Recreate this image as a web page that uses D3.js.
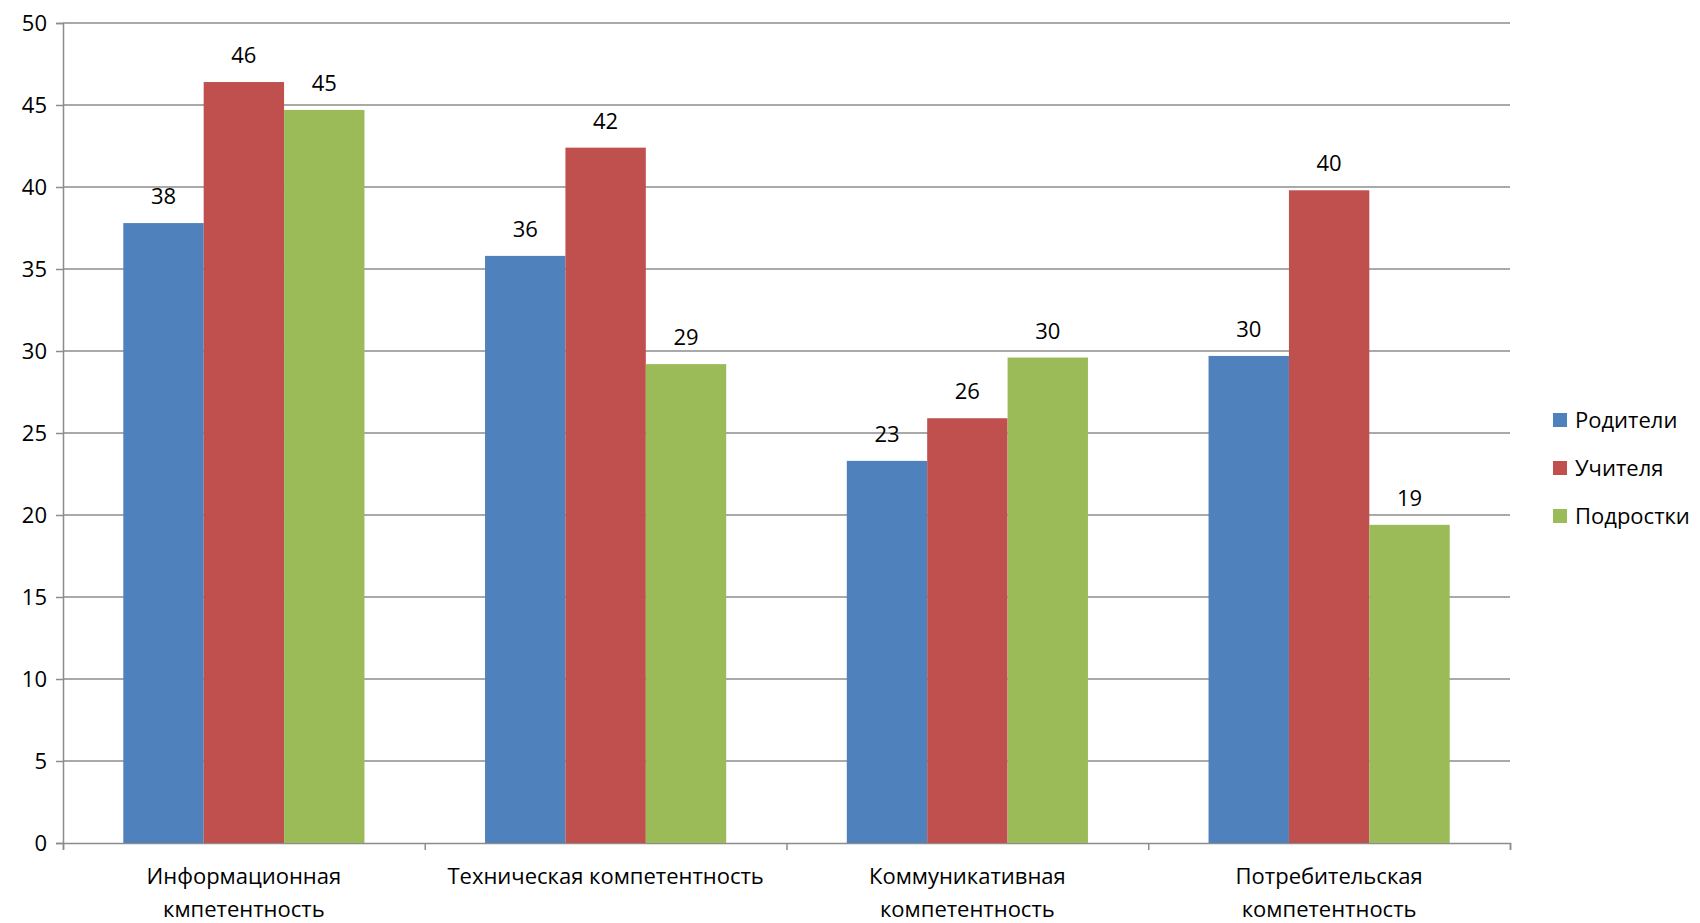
<!DOCTYPE html>
<html>
<head>
<meta charset="utf-8">
<script src="https://cdn.jsdelivr.net/npm/d3@7"></script>
<style>
  body { margin: 0; background: #fff; }
  text { font-family: "Open Sans", Lato, sans-serif; fill: #000; }
</style>
</head>
<body>
<div id="chart"></div>
<script>
// categories (each split into label lines), series and values
var categories = ["Информационная компетентность", "Техническая компетентность", "Коммуникативная компетентность", "Потребительская компетентность"];
var categoryLines = [["Информационная", "кмпетентность"], ["Техническая компетентность"], ["Коммуникативная", "компетентность"], ["Потребительская", "компетентность"]];
var seriesNames = ["Родители", "Учителя", "Подростки"];
var seriesColors = ["#4F81BD", "#C0504D", "#9BBB59"];
var roditeli = [37.8, 35.8, 23.3, 29.7];
var uchitelya = [46.4, 42.4, 25.9, 39.8];
var podrostki = [44.7, 29.2, 29.6, 19.4];
var yTicks = [0, 5, 10, 15, 20, 25, 30, 35, 40, 45, 50];

var values = [roditeli, uchitelya, podrostki];

var W = 1700, H = 923;
var margin = {top: 23, right: 190, bottom: 80, left: 63};
var width = W - margin.left - margin.right,
    height = H - margin.top - margin.bottom;
var fontSize = "22px";

var svg = d3.select("#chart")
  .append("svg")
    .attr("width", W)
    .attr("height", H)
  .append("g")
    .attr("transform", "translate(" + margin.left + "," + margin.top + ")");

var x0 = d3.scaleBand()
  .domain(categories)
  .range([0, width])
  .paddingInner(1/3)
  .paddingOuter(1/6);

var x1 = d3.scaleBand()
  .domain(seriesNames)
  .range([0, x0.bandwidth()]);

var y = d3.scaleLinear()
  .domain([0, 50])
  .range([height, 0]);

// gridlines
svg.append("g")
  .selectAll("line")
  .data(yTicks.slice(1))
  .enter()
  .append("line")
    .attr("x1", 0)
    .attr("x2", width)
    .attr("y1", function(d) { return y(d); })
    .attr("y2", function(d) { return y(d); })
    .style("stroke", "#8c8c8c")
    .style("stroke-width", 1.5);

// Y axis
var yAxis = svg.append("g")
  .call(d3.axisLeft(y).tickValues(yTicks).tickSize(7).tickPadding(9));
yAxis.selectAll("text").style("font-size", fontSize);

// X axis: ticks at category boundaries
var xBoundary = d3.scaleLinear().domain([0, categories.length]).range([0, width]);
svg.append("g")
  .attr("transform", "translate(0," + height + ")")
  .call(d3.axisBottom(xBoundary).tickValues(d3.range(0, categories.length + 1)).tickSize(7).tickFormat(""));

svg.selectAll(".domain, .tick line")
  .style("stroke", "#8c8c8c")
  .style("stroke-width", 1.5);

// bars
var groups = svg.append("g")
  .selectAll("g")
  .data(categories)
  .enter()
  .append("g")
    .attr("transform", function(d) { return "translate(" + x0(d) + ",0)"; });

function rows(d, i) {
  return seriesNames.map(function(s, j) { return {s: s, j: j, v: values[j][i]}; });
}

groups.selectAll("rect")
  .data(rows)
  .enter()
  .append("rect")
    .attr("x", function(d) { return x1(d.s); })
    .attr("y", function(d) { return y(d.v); })
    .attr("width", x1.bandwidth())
    .attr("height", function(d) { return height - y(d.v); })
    .style("fill", function(d) { return seriesColors[d.j]; });

groups.selectAll("text.val")
  .data(rows)
  .enter()
  .append("text")
    .attr("class", "val")
    .attr("x", function(d) { return x1(d.s) + x1.bandwidth() / 2; })
    .attr("y", function(d) { return y(d.v) - 19; })
    .attr("text-anchor", "middle")
    .style("font-size", fontSize)
    .text(function(d) { return Math.round(d.v); });

// category labels
var catLabels = svg.append("g")
  .selectAll("text")
  .data(categories)
  .enter()
  .append("text")
    .attr("text-anchor", "middle")
    .attr("x", function(d) { return x0(d) + x0.bandwidth() / 2; })
    .attr("y", height + 41)
    .style("font-size", fontSize);

catLabels.selectAll("tspan")
  .data(function(d, i) { return categoryLines[i]; })
  .enter()
  .append("tspan")
    .attr("x", function() { return d3.select(this.parentNode).attr("x"); })
    .attr("dy", function(d, i) { return i === 0 ? 0 : 33; })
    .text(function(d) { return d; });

// legend
var legend = svg.append("g")
  .attr("transform", "translate(" + (1553 - margin.left) + "," + (420 - margin.top) + ")");

var item = legend.selectAll("g")
  .data(seriesNames)
  .enter()
  .append("g")
    .attr("transform", function(d, i) { return "translate(0," + (i * 48) + ")"; });

item.append("rect")
  .attr("x", 0)
  .attr("y", -7)
  .attr("width", 14)
  .attr("height", 14)
  .style("fill", function(d, i) { return seriesColors[i]; });

item.append("text")
  .attr("x", 22)
  .attr("y", 8)
  .style("font-size", fontSize)
  .text(function(d) { return d; });
</script>
</body>
</html>
